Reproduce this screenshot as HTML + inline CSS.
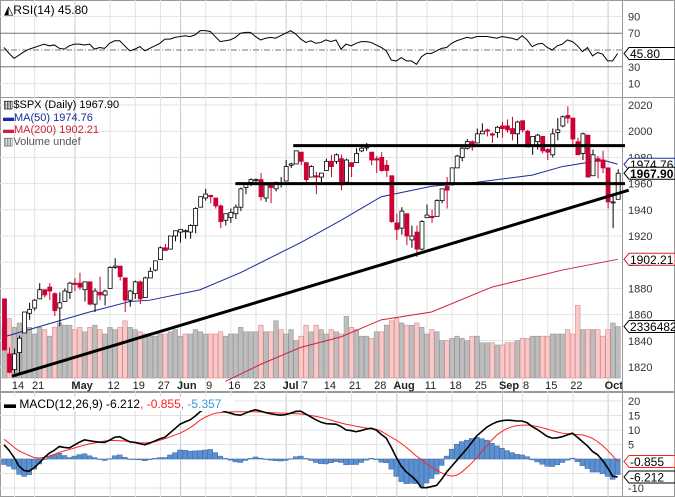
<!DOCTYPE html>
<html><head><meta charset="utf-8"><style>
body{margin:0;background:#fff;}
svg{display:block;font-family:"Liberation Sans",sans-serif;}
</style></head><body>
<svg id="chart" width="675" height="497" viewBox="0 0 675 497"></svg>
<script>
const dates=["Apr10","Apr11","Apr14","Apr15","Apr16","Apr17","Apr21","Apr22","Apr23","Apr24","Apr25","Apr28","Apr29","Apr30","May1","May2","May5","May6","May7","May8","May9","May12","May13","May14","May15","May16","May19","May20","May21","May22","May23","May27","May28","May29","May30","Jun2","Jun3","Jun4","Jun5","Jun6","Jun9","Jun10","Jun11","Jun12","Jun13","Jun16","Jun17","Jun18","Jun19","Jun20","Jun23","Jun24","Jun25","Jun26","Jun27","Jun30","Jul1","Jul2","Jul3","Jul7","Jul8","Jul9","Jul10","Jul11","Jul14","Jul15","Jul16","Jul17","Jul18","Jul21","Jul22","Jul23","Jul24","Jul25","Jul28","Jul29","Jul30","Jul31","Aug1","Aug4","Aug5","Aug6","Aug7","Aug8","Aug11","Aug12","Aug13","Aug14","Aug15","Aug18","Aug19","Aug20","Aug21","Aug22","Aug25","Aug26","Aug27","Aug28","Aug29","Sep2","Sep3","Sep4","Sep5","Sep8","Sep9","Sep10","Sep11","Sep12","Sep15","Sep16","Sep17","Sep18","Sep19","Sep22","Sep23","Sep24","Sep25","Sep26","Sep29","Sep30","Oct1","Oct2","Oct3"];
const opens=[1872,1830,1818,1831,1846,1861,1865,1872,1879,1881,1876,1865,1870,1877,1884,1884,1879,1885,1868,1877,1875,1880,1896,1897,1888,1871,1876,1885,1873,1888,1894,1902,1911,1910,1920,1923,1924,1923,1928,1942,1949,1951,1949,1943,1932,1934,1937,1942,1957,1961,1963,1963,1949,1959,1956,1960,1962,1974,1975,1984,1976,1965,1966,1965,1970,1977,1977,1979,1961,1976,1976,1985,1988,1984,1979,1980,1974,1966,1930,1926,1937,1917,1923,1910,1934,1935,1935,1947,1958,1959,1972,1980,1987,1992,1991,1998,2001,1998,1999,2004,2004,2002,1998,2008,2000,1989,1992,1996,1986,1982,1999,2004,2012,2010,1992,1983,1997,1966,1979,1978,1972,1946,1948];
const highs=[1872,1835,1834,1844,1862,1869,1872,1884,1879,1884,1877,1877,1880,1885,1888,1892,1885,1885,1880,1889,1879,1897,1903,1897,1888,1879,1886,1886,1889,1896,1901,1912,1914,1920,1924,1925,1925,1929,1942,1950,1956,1951,1949,1944,1937,1941,1944,1957,1959,1964,1964,1968,1960,1959,1961,1965,1978,1976,1985,1984,1976,1974,1969,1968,1979,1982,1983,1982,1979,1976,1987,1989,1991,1984,1981,1984,1978,1966,1937,1942,1937,1928,1928,1932,1944,1940,1948,1955,1965,1971,1982,1988,1994,1993,2002,2006,2002,1999,2004,2007,2009,2011,2008,2008,2001,1996,1998,1996,1987,2002,2010,2012,2019,2010,1995,1999,1997,1986,1981,1985,1972,1952,1971];
const lows=[1833,1815,1815,1816,1846,1856,1863,1872,1873,1871,1859,1851,1870,1872,1878,1879,1870,1867,1862,1871,1867,1880,1895,1886,1862,1866,1872,1868,1873,1888,1893,1902,1909,1910,1916,1915,1918,1918,1922,1942,1947,1945,1941,1926,1928,1930,1933,1939,1952,1958,1959,1947,1946,1945,1954,1957,1962,1972,1975,1974,1959,1965,1952,1959,1970,1965,1975,1955,1961,1965,1976,1984,1985,1974,1968,1969,1965,1930,1917,1921,1913,1911,1904,1909,1934,1930,1935,1945,1941,1959,1972,1977,1986,1985,1991,1998,1996,1991,1995,1995,1999,1993,1990,1999,1988,1982,1986,1983,1978,1980,1993,2003,2006,1990,1982,1978,1965,1966,1964,1968,1941,1926,1948];
const closes=[1833,1816,1830,1842,1862,1864,1871,1879,1875,1878,1863,1869,1878,1884,1883,1881,1885,1868,1878,1875,1878,1896,1897,1889,1871,1878,1885,1872,1888,1893,1901,1911,1909,1920,1924,1925,1924,1928,1941,1950,1952,1950,1943,1931,1937,1938,1942,1956,1960,1963,1963,1950,1959,1957,1961,1960,1973,1975,1985,1977,1963,1973,1965,1968,1977,1973,1982,1959,1978,1973,1983,1987,1988,1978,1978,1970,1970,1931,1925,1939,1920,1920,1910,1931,1936,1934,1947,1956,1955,1972,1981,1987,1992,1988,1998,2000,2000,1997,2003,2002,2001,1998,2007,2001,1988,1996,1997,1985,1984,1998,2001,2011,2010,1994,1982,1998,1965,1982,1977,1972,1946,1946,1967.9];
const volumes=[2.3,2.7,2.3,2.5,2.2,2.3,2.0,2.3,2.2,1.9,2.3,2.5,2.4,2.4,2.2,2.3,2.1,2.3,2.4,2.2,2.0,2.3,2.2,2.3,2.6,2.3,2.2,2.1,2.0,1.9,1.9,2.0,2.0,2.1,2.2,
1.9,2.0,2.0,2.2,2.1,2.0,2.0,2.0,2.1,1.9,2.0,2.0,2.3,2.1,2.1,2.1,2.4,2.1,2.1,2.6,2.2,
2.0,2.2,1.7,1.9,2.4,2.1,2.4,2.2,2.0,2.2,2.1,2.0,2.8,2.3,2.2,1.9,1.9,1.8,2.1,2.1,2.4,2.6,
2.7,2.5,2.4,2.4,2.5,2.3,2.0,2.2,2.1,1.7,1.7,1.8,1.9,1.8,1.7,1.9,1.9,1.6,1.6,1.6,1.5,
1.5,1.6,1.6,1.7,1.8,1.8,1.9,1.9,1.9,1.9,2.0,2.0,2.0,2.2,2.0,3.3,2.2,2.2,2.2,2.2,1.9,
2.2,2.5,2.34];
const rsi=[53,46,40,44,48,51,53,55,57,55,56,52,51,55,57,57,56,57,51,53,52,58,61,61,55,49,51,54,49,52,55,58,63,63,65,66,67,66,68,73,73,72,66,60,61,62,65,70,71,71,66,62,64,65,64,67,70,73,69,63,59,61,58,59,62,60,62,51,57,55,58,60,60,59,56,53,49,38,37,41,37,37,33,42,46,46,49,52,53,58,61,63,65,64,66,66,66,65,64,66,65,64,62,67,62,54,57,58,53,50,55,57,62,60,55,48,53,43,47,45,37,37,45.8];
const macd=[4.9,3,0.5,-2.5,-4,-4.2,-3,-1.4,0.5,2,3,4.3,4,3.8,4.8,5.8,6.6,6.3,6,5.8,5.7,6.5,7.5,7.7,6.8,5.9,5.7,5.3,4.9,5.5,6.2,7,7.5,9,10.5,12,12.8,13.5,14.8,16.3,17.5,18.5,18,17,16.3,15.8,15.3,15.1,15.8,16.5,17,16.5,16,15.6,15.3,15.1,15.3,15.8,16.4,16.5,15.5,14.5,13.5,12.7,12.2,12.1,12,11.2,10,9.8,9.4,9.8,10.3,10.6,10,8.5,7.2,4,0.5,-2.5,-4.5,-5.9,-7.5,-9.9,-9.9,-9.5,-9.1,-7,-4.5,-2.5,-0.5,1.5,3.5,5.7,8,9.5,11,12,12.8,13.2,13.4,13.3,13.1,13.1,12.5,11.2,10.2,9,7.8,7.2,7.3,7.7,8.3,8.9,7.5,6,4.5,2.6,1.5,-0.5,-3,-5.9,-6.212];
const signal=[6.8,5.5,4,2.8,2,1.2,0.5,0.3,0.6,1,1.6,2.3,2.8,3.3,3.8,4.3,4.8,5.2,5.5,5.9,6.2,6.4,6.4,6.3,6.2,6,5.8,5.6,5.5,5.7,6,6.5,7,7.6,8.3,8.9,9.8,10.8,12,13.4,14.4,15.2,15.8,16,16.1,16.2,16.3,16.3,16.3,16.3,16.3,16.2,16.1,16,15.9,15.8,15.8,15.7,15.6,15.5,15.3,15,14.7,14.3,13.9,13.4,12.9,12.4,12,11.7,11.3,11,10.7,10.4,10.2,9.6,8.5,7.5,6.5,5.3,4,2.5,1,-0.2,-1.6,-2.8,-3.9,-4.8,-5.5,-5.9,-5.6,-4.5,-3,-1.4,0.5,2.5,4.5,6.6,8.3,9.5,10.5,11.1,11.5,11.7,11.7,11.5,11.2,10.8,10.3,9.8,9.3,8.9,8.7,8.6,8.4,8.3,7.8,7.1,6,4.6,3,1.1,-0.855];
// MA values at selected session indexes
const ma50Idx=[0,17,25,29,39,47,59,67,75,85,94,105,111,119,122];
const ma50Val=[1843,1862,1870,1871,1879,1892,1915,1932,1950,1958,1961,1966.5,1973,1978,1974.76];
const ma200Idx=[44,51,59,67,75,85,97,111,122];
const ma200Val=[1809,1822,1835,1843,1856,1862,1881,1894,1902.21];
const priceTicks=[1820,1840,1860,1880,1900,1920,1940,1960,1980,2000,2020];
const rsiTicks=[10,30,50,70,90];
const macdTicks=[-10,-5,0,5,10,15,20];
const dateLabels=[["Apr14","14",0],["Apr21","21",0],["May1","May",1],["May12","12",0],["May19","19",0],["May27","27",0],["Jun2","Jun",1],["Jun9","9",0],["Jun16","16",0],["Jun23","23",0],["Jul1","Jul",1],["Jul7","7",0],["Jul14","14",0],["Jul21","21",0],["Jul28","28",0],["Aug1","Aug",1],["Aug11","11",0],["Aug18","18",0],["Aug25","25",0],["Sep2","Sep",1],["Sep8","8",0],["Sep15","15",0],["Sep22","22",0],["Oct1","Oct",1]];
const resistHigh=1989, resistLow=1960, resistHighStart=57.5, resistLowStart=46;
const trendA=[1.6,1813], trendB=[124.2,1955];

const NS="http://www.w3.org/2000/svg";
const svg=document.getElementById('chart');
function mk(tag,attrs,parent){const e=document.createElementNS(NS,tag);for(const k in attrs)e.setAttribute(k,attrs[k]);(parent||svg).appendChild(e);return e;}
const X=i=>4+i*5.03;
const PY=p=>367-(p-1820)*1.31;
const RY=v=>50-(v-50)*0.84;
const MY=v=>459-v*2.9;
const VY=v=>378-v*22;
const PR=622;

// panels backgrounds / borders
let g;
g=mk('rect',{x:0.5,y:0.5,width:674,height:97,fill:'#fff',stroke:'#999'});


g=mk('rect',{x:0.5,y:97.5,width:674,height:294,fill:'#fff',stroke:'#999'});


g=mk('rect',{x:0.5,y:392.5,width:674,height:104,fill:'#fff',stroke:'#999'});



// vertical grid
dateLabels.forEach(d=>{const x=X(dates.indexOf(d[0]))+0.5;const c=d[2]?'#c8c8c8':'#e2e2e2';
 [[0,97],[97,392],[392,497]].forEach(r=>{const l=mk('line',{x1:x,x2:x,y1:r[0],y2:r[1],stroke:c});});
 const t=mk('text',{x:d[2]?X(dates.indexOf(d[0]))-3:X(dates.indexOf(d[0]))+4,y:389,'font-size':11,'font-weight':d[2]?'bold':'normal','text-anchor':d[2]?'start':'middle',fill:'#222'});
 t.textContent=d[1];
 
 
});
// right axis area divider
mk('line',{x1:PR+0.5,x2:PR+0.5,y1:0,y2:497,stroke:'#999'});

// RSI grid
rsiTicks.forEach(v=>{const y=RY(v);let st='#e2e2e2',da='';if(v==30||v==70)st='#777';if(v==50){st='#777';da='6,2,1,2';}
 const l=mk('line',{x1:0,x2:PR,y1:y,y2:y,stroke:st,'stroke-dasharray':da});
 if(v!=50){const t=mk('text',{x:628,y:y+4,'font-size':11,fill:'#333'});t.textContent=v;}
});
let pts=rsi.map((v,i)=>X(i)+','+RY(v)).join(' ');
g=mk('polyline',{points:pts,fill:'none',stroke:'#000','stroke-width':1});


g=mk('text',{x:4,y:14,'font-size':12,fill:'#000'});g.textContent='◭RSI(14) 45.80';



// price grid
priceTicks.forEach(p=>{const y=PY(p);const l=mk('line',{x1:0,x2:PR,y1:y,y2:y,stroke:'#e2e2e2'});
 const t=mk('text',{x:628,y:y+4,'font-size':11,fill:'#333'});t.textContent=p;});

// volume
volumes.forEach((v,i)=>{const down=i>0&&closes[i]<closes[i-1];const y=VY(v);
 const r=mk('rect',{x:X(i)-2,y:y,width:4.6,height:378-y,fill:down?'#f9c9c9':'#bdbdbd',stroke:down?'#d88a8a':'#9a9a9a','stroke-width':0.6});
 
 });

// MAs
pts=ma50Idx.map((d,k)=>X(d)+','+PY(ma50Val[k])).join(' ');
g=mk('polyline',{points:pts,fill:'none',stroke:'#1a2a9a','stroke-width':1});


pts=ma200Idx.map((d,k)=>X(d)+','+PY(ma200Val[k])).join(' ');
g=mk('polyline',{points:pts,fill:'none',stroke:'#d0203a','stroke-width':1});



// candles
closes.forEach((c,i)=>{const o=opens[i],up=c>=o;const col=up?'#000':'#cc0033';const x=X(i);
 const w=mk('line',{x1:x+0.5,x2:x+0.5,y1:PY(highs[i]),y2:PY(lows[i]),stroke:col});
 
 
 const top=PY(Math.max(o,c)),bot=PY(Math.min(o,c));
 const b=mk('rect',{x:x-1.5,y:top,width:4,height:Math.max(1,bot-top),fill:up?'#fff':'#cc0033',stroke:col,'stroke-width':0.8});
 
 });

// drawn lines
g=mk('line',{x1:X(resistHighStart),x2:625,y1:PY(resistHigh),y2:PY(resistHigh),stroke:'#000','stroke-width':3});


g=mk('line',{x1:X(resistLowStart),x2:625,y1:PY(resistLow),y2:PY(resistLow),stroke:'#000','stroke-width':3});


g=mk('line',{x1:X(trendA[0]),y1:PY(trendA[1]),x2:X(trendB[0]),y2:PY(trendB[1]),stroke:'#000','stroke-width':3});



// legend
const leg=[["▥$SPX (Daily) 1967.90","#000",104],["▬MA(50) 1974.76","#1a2a9a",117],["▬MA(200) 1902.21","#d0203a",129],["▥Volume undef","#555",141]];
leg.forEach(l=>{const t=mk('text',{x:3,y:l[2]+4,'font-size':11,fill:l[1]});t.textContent=l[0];});

// tags
function tag(y,txt,col,bold,name){const p=mk('path',{d:`M${PR+2} ${y} l5 -6 h46 v12 h-46 z`,fill:'#fff',stroke:col});
 
 
 const t=mk('text',{x:PR+8,y:y+4.5,'font-size':12,fill:'#000','font-weight':bold?'bold':'normal'});t.textContent=txt;
 
 }
tag(RY(45.8),'45.80','#000',0,'rsi-value-tag');
tag(PY(1974.76),'1974.76','#1a2a9a',0,'ma50-value-tag');
tag(PY(1967.9),'1967.90','#000',1,'price-value-tag');
tag(PY(1902.21),'1902.21','#d0203a',0,'ma200-value-tag');
tag(VY(2.34),'2336482','#000',0,'volume-value-tag');

// MACD
macdTicks.forEach(v=>{const y=MY(v);const l=mk('line',{x1:0,x2:PR,y1:y,y2:y,stroke:'#e2e2e2'});
 if(v!=0&&v!=-5){const t=mk('text',{x:628,y:y+4,'font-size':11,fill:'#333'});t.textContent=v;}});
macd.forEach((m,i)=>{const h=m-signal[i];const y0=MY(0),y1=MY(h);
 const r=mk('rect',{x:X(i)-2.5,y:Math.min(y0,y1),width:5,height:Math.max(0.5,Math.abs(y1-y0)),fill:'#5b8fcf',stroke:'#3a6aa8','stroke-width':0.5});
 
 });
pts=signal.map((v,i)=>X(i)+','+MY(v)).join(' ');
g=mk('polyline',{points:pts,fill:'none',stroke:'#ff2020','stroke-width':1});


pts=macd.map((v,i)=>X(i)+','+MY(v)).join(' ');
g=mk('polyline',{points:pts,fill:'none',stroke:'#000','stroke-width':1.6});


g=mk('rect',{x:2,y:397,width:232,height:14,fill:'#fff'});


g=mk('text',{x:4,y:408,'font-size':12,fill:'#000'});
g.innerHTML='<tspan font-weight="bold">▬</tspan> MACD(12,26,9) -6.212<tspan fill="#ff2020">, -0.855</tspan><tspan fill="#3399dd">, -5.357</tspan>';


tag(MY(-0.855),'-0.855','#ff2020',0,'signal-value-tag');
tag(MY(-6.212),'-6.212','#000',0,'macd-value-tag');
</script>
</body></html>
